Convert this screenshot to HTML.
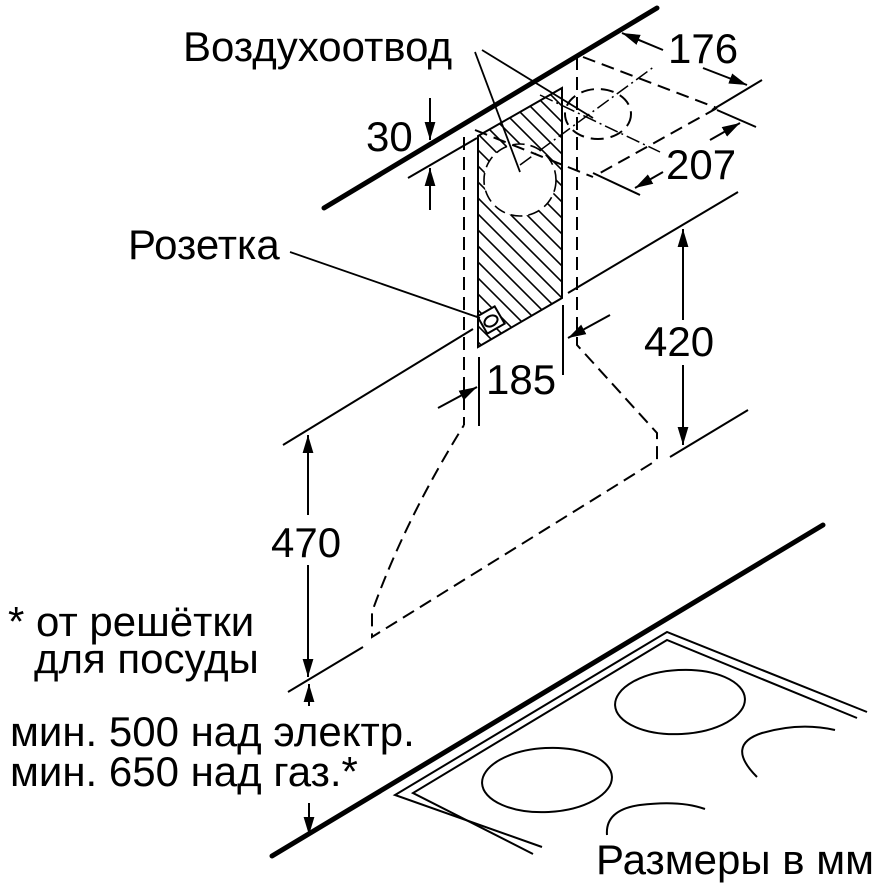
<!DOCTYPE html>
<html><head><meta charset="utf-8"><style>
html,body{margin:0;padding:0;background:#fff}
svg{display:block}
text{font-family:"Liberation Sans",sans-serif;font-size:42px;fill:#000}
</style></head><body>
<svg width="883" height="890" viewBox="0 0 883 890" xmlns="http://www.w3.org/2000/svg">
<defs>
<marker id="ar" viewBox="0 0 10 10" refX="10" refY="5" markerWidth="18" markerHeight="18" markerUnits="userSpaceOnUse" orient="auto"><path d="M0,2 L10,5 L0,8 Z" fill="#000"/></marker>
<clipPath id="pc"><polygon points="478,136 562,88 562,298 478,347"/></clipPath>
</defs>
<g stroke="#000" fill="none" stroke-width="2">
<line x1="324" y1="208" x2="657" y2="8" stroke-width="5" stroke-linecap="round"/>
<g clip-path="url(#pc)" stroke-width="1.6">
<path d="M400,40 l300,300 M400,56 l300,300 M400,72 l300,300 M400,88 l300,300 M400,104 l300,300 M400,120 l300,300 M400,136 l300,300 M400,152 l300,300 M400,168 l300,300 M400,184 l300,300 M400,200 l300,300 M400,216 l300,300 M400,232 l300,300 M400,248 l300,300 M400,264 l300,300 M400,280 l300,300 M400,24 l300,300 M400,8 l300,300 M400,-8 l300,300 M400,-24 l300,300 M400,-40 l300,300 M400,-56 l300,300 M400,-72 l300,300 M400,-88 l300,300 M400,-104 l300,300"/>
</g>
<circle cx="520" cy="180" r="36" fill="#fff" stroke="none"/>
<circle cx="520" cy="180" r="36" stroke-dasharray="12,6" stroke-width="1.6"/>
<polygon points="478,136 562,88 562,298 478,347" stroke-width="2"/>
<rect x="481" y="310" width="20" height="20" fill="#fff" transform="rotate(-30 491 320)"/>
<ellipse cx="491" cy="321" rx="7" ry="5" transform="rotate(-30 491 321)"/>
<g stroke-dasharray="13,7" stroke-width="2">
<line x1="464" y1="137" x2="464" y2="425"/>
<path d="M577,57 L577,345 L657,433 L657,460 L372,637 L372,612 Q405,520 464,425"/>
<line x1="583" y1="57" x2="717" y2="108"/>
<line x1="717" y1="108" x2="600" y2="173"/>
<line x1="475" y1="130" x2="593" y2="177"/>
<ellipse cx="598" cy="114" rx="33" ry="25"/>
</g>
<g stroke-dasharray="14,4,2,4" stroke-width="1.5">
<line x1="540" y1="95" x2="660" y2="152"/>
<line x1="520" y1="165" x2="655" y2="66"/>
</g>
<line x1="475" y1="52" x2="520" y2="172" stroke-width="1.8"/>
<line x1="482" y1="50" x2="593" y2="118" stroke-width="1.8"/>
<line x1="290" y1="252" x2="480" y2="318" stroke-width="1.8"/>
<line x1="663" y1="50" x2="622" y2="33" marker-end="url(#ar)"/>
<line x1="703" y1="68" x2="747" y2="85" marker-end="url(#ar)"/>
<line x1="762" y1="80" x2="712" y2="110"/>
<line x1="717" y1="110" x2="756" y2="127"/>
<line x1="593" y1="173" x2="640" y2="195"/>
<line x1="710" y1="140" x2="740" y2="123" marker-end="url(#ar)"/>
<line x1="663" y1="172" x2="635" y2="188" marker-end="url(#ar)"/>
<line x1="430" y1="98" x2="430" y2="140" marker-end="url(#ar)"/>
<line x1="430" y1="210" x2="430" y2="168" marker-end="url(#ar)"/>
<line x1="408" y1="178" x2="477" y2="138"/>
<line x1="738" y1="192" x2="568" y2="293"/>
<line x1="683" y1="320" x2="683" y2="229" marker-end="url(#ar)"/>
<line x1="683" y1="365" x2="683" y2="445" marker-end="url(#ar)"/>
<line x1="670" y1="457" x2="748" y2="410"/>
<line x1="479" y1="357" x2="479" y2="426"/>
<line x1="563" y1="305" x2="563" y2="375"/>
<line x1="610" y1="315" x2="568" y2="338" marker-end="url(#ar)"/>
<line x1="438" y1="408" x2="477" y2="387" marker-end="url(#ar)"/>
<line x1="283" y1="445" x2="473" y2="329"/>
<line x1="308" y1="515" x2="308" y2="435" marker-end="url(#ar)"/>
<line x1="308" y1="565" x2="308" y2="677" marker-end="url(#ar)"/>
<line x1="288" y1="692" x2="363" y2="647"/>
<line x1="309" y1="706" x2="309" y2="684" marker-end="url(#ar)"/>
<line x1="309" y1="803" x2="309" y2="835" marker-end="url(#ar)"/>
<line x1="272" y1="856" x2="823" y2="525" stroke-width="5" stroke-linecap="round"/>
<polyline points="542,847 395,795 667,632 867,712"/>
<polyline points="533,854 413,793 667,640 857,718"/>
<ellipse cx="680" cy="702" rx="65" ry="32" transform="rotate(-3 680 702)"/>
<ellipse cx="547" cy="780" rx="65" ry="32" transform="rotate(-3 547 780)"/>
<path d="M757,777 Q725,745 762,733 Q800,722 835,730"/>
<path d="M607,835 Q605,810 640,805 Q680,800 705,809"/>
</g>
<text x="183" y="61">Воздухоотвод</text>
<text x="668" y="63">176</text>
<text x="366" y="151">30</text>
<text x="666" y="179">207</text>
<text x="128" y="259">Розетка</text>
<text x="644" y="356">420</text>
<text x="486" y="394">185</text>
<text x="271" y="557">470</text>
<text x="8" y="636">* от решётки</text>
<text x="34" y="673">для посуды</text>
<text x="10" y="746">мин. 500 над электр.</text>
<text x="10" y="786">мин. 650 над газ.*</text>
<text x="596" y="874">Размеры в мм</text>
</svg>
</body></html>
